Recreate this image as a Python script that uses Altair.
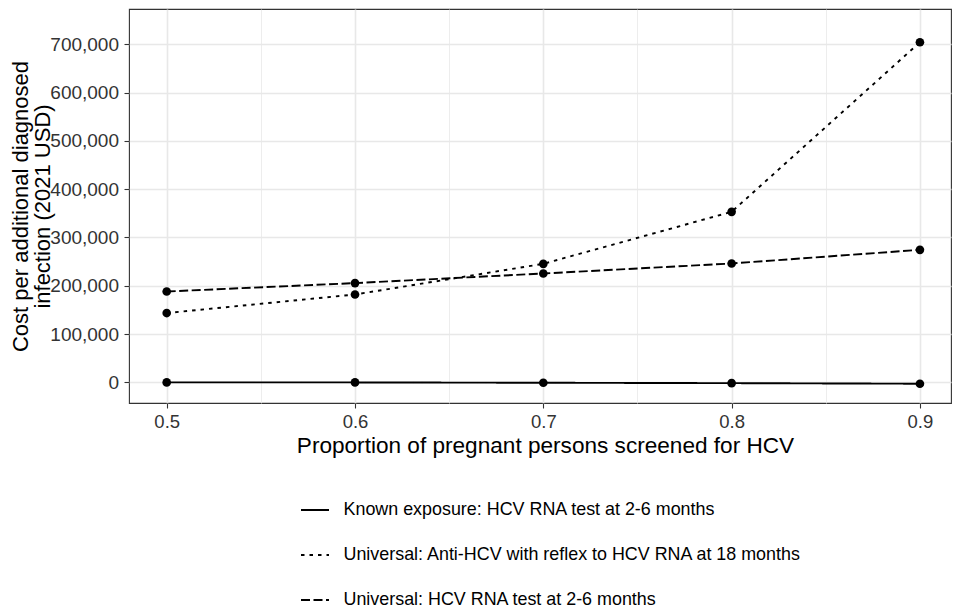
import altair as alt
import pandas as pd

proportion = [0.5, 0.6, 0.7, 0.8, 0.9]
series_names = [
    "Known exposure: HCV RNA test at 2-6 months",
    "Universal: Anti-HCV with reflex to HCV RNA at 18 months",
    "Universal: HCV RNA test at 2-6 months",
]
known_exposure = [0, 0, -700, -1500, -2700]
anti_hcv_reflex = [143600, 182000, 245500, 353100, 704200]
hcv_rna_universal = [188200, 205600, 225500, 246200, 274500]

x_ticks = [0.5, 0.55, 0.6, 0.65, 0.7, 0.75, 0.8, 0.85, 0.9]
y_ticks = list(range(0, 750001, 50000))

rows = []
for name, vals in zip(series_names, [known_exposure, anti_hcv_reflex, hcv_rna_universal]):
    for p, v in zip(proportion, vals):
        rows.append({"proportion": p, "cost": v, "strategy": name})
df = pd.DataFrame(rows)

major_x = "abs(datum.value*10 - round(datum.value*10)) < 0.001"
major_y = "datum.value % 100000 === 0"

x_enc = alt.X(
    "proportion:Q",
    scale=alt.Scale(domain=[0.47998, 0.9165], nice=False, zero=False),
    axis=alt.Axis(
        values=x_ticks,
        format=".1f",
        labelExpr=f"{major_x} ? datum.label : ''",
        title="Proportion of pregnant persons screened for HCV",
        gridWidth={"condition": {"test": major_x, "value": 1.6}, "value": 0.8},
        tickOpacity={"condition": {"test": major_x, "value": 1}, "value": 0},
        titleBaseline="alphabetic",
        titleY=49,
        titleX=416,
        titleAlign="center",
        titleFontSize=22.6,
    ),
)
y_enc = alt.Y(
    "cost:Q",
    scale=alt.Scale(domain=[-42600, 773000], nice=False, zero=False),
    axis=alt.Axis(
        values=y_ticks,
        format=",.0f",
        labelExpr=f"{major_y} ? datum.label : ''",
        labelFontSize=19,
        labelPadding=5.5,
        title=["Cost per additional diagnosed", "infection (2021 USD)"],
        gridWidth={"condition": {"test": major_y, "value": 1.6}, "value": 0.8},
        tickOpacity={"condition": {"test": major_y, "value": 1}, "value": 0},
        titleBaseline="alphabetic",
        titleX=-102,
        titleLineHeight=22,
        titleFontSize=22,
    ),
)

base = alt.Chart(df)

lines = base.mark_line(color="black", strokeWidth=1.9, strokeCap="butt").encode(
    x=x_enc,
    y=y_enc,
    strokeDash=alt.StrokeDash(
        "strategy:N",
        scale=alt.Scale(domain=series_names, range=[[1, 0], [3.5, 5], [9, 3.5]]),
        legend=alt.Legend(
            title=None,
            orient="none",
            legendX=171,
            legendY=486,
            symbolType="stroke",
            symbolSize=784,
            symbolStrokeWidth=1.9,
            symbolStrokeColor="black",
            labelFontSize=17.9,
            labelColor="black",
            labelFont="Liberation Sans",
            labelOffset=13.5,
            rowPadding=21,
            labelLimit=800,
            padding=0,
        ),
    ),
)

points = base.mark_circle(color="black", size=75, opacity=1).encode(
    x="proportion:Q",
    y="cost:Q",
)

chart = (
    alt.layer(lines, points)
    .properties(
        width=822,
        height=394,
        autosize=alt.AutoSizeParams(type="none"),
        padding={"left": 121, "top": 1, "right": 2, "bottom": 208},
        background="white",
    )
    .configure_view(stroke="#333333", strokeWidth=1.1, fill="white")
    .configure_axis(
        domain=False,
        gridColor="#e8e8e8",
        tickColor="#333333",
        tickWidth=1.1,
        tickSize=5,
        labelFont="Liberation Sans",
        labelFontSize=18.5,
        labelColor="#333333",
        labelPadding=4,
        titleFont="Liberation Sans",
        titleFontWeight="normal",
        titleColor="black",
    )
)

chart.save("out.html", embed_options={"renderer": "svg", "actions": False})
